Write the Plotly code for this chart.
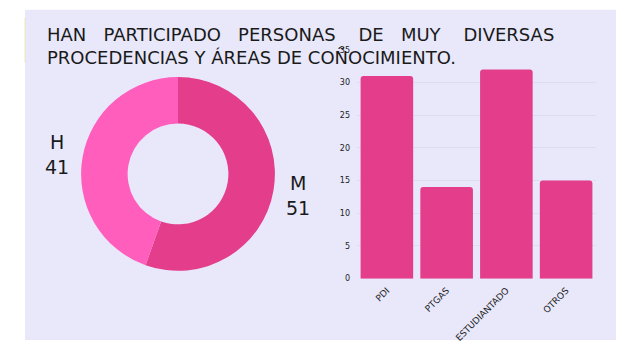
import plotly.graph_objects as go

# Participants by sex
sex_labels = ["M", "H"]
sex_values = [51, 41]

# Participants by group
groups = ["PDI", "PTGAS", "ESTUDIANTADO", "OTROS"]
group_values = [31, 14, 32, 15]

y_ticks = [0, 5, 10, 15, 20, 25, 30, 35]

W, H = 625, 345
DARK = "#E33D8C"
LIGHT = "#FF5EBD"
BG = "#E8E8FA"
FONT = "DejaVu Sans"

fig = go.Figure()

fig.add_trace(go.Pie(
    labels=sex_labels,
    values=sex_values,
    sort=False,
    direction="clockwise",
    rotation=0,
    hole=0.52,
    marker=dict(colors=[DARK, LIGHT], line=dict(width=0)),
    textinfo="none",
    hoverinfo="label+value",
    showlegend=False,
    domain=dict(x=[78 / W, 278 / W], y=[1 - 274 / H, 1 - 75 / H]),
))

fig.add_trace(go.Bar(
    x=groups,
    y=group_values,
    marker=dict(color=DARK, line=dict(width=0), cornerradius=3),
    showlegend=False,
    xaxis="x",
    yaxis="y",
))

fig.update_layout(
    width=W,
    height=H,
    margin=dict(l=0, r=0, t=0, b=0),
    paper_bgcolor="white",
    plot_bgcolor="rgba(0,0,0,0)",
    bargap=0.12,
    xaxis=dict(
        domain=[357 / W, 596 / W],
        anchor="y",
        tickangle=-45,
        tickfont=dict(family=FONT, size=9, color="#222"),
        showgrid=False,
        showline=False,
        ticks="",
        ticklabelstandoff=4,
        fixedrange=True,
    ),
    yaxis=dict(
        domain=[1 - 282 / H, 1 - 47 / H],
        anchor="x",
        range=[0, 35],
        tickvals=y_ticks,
        tickfont=dict(family=FONT, size=8, color="#222"),
        showgrid=True,
        gridcolor="#DCDCF2",
        gridwidth=1,
        zeroline=False,
        showline=False,
        ticks="",
        ticklabelstandoff=6,
        fixedrange=True,
    ),
    shapes=[
        dict(type="rect", xref="paper", yref="paper", layer="below",
             x0=25 / W, x1=616 / W, y0=0, y1=1 - 6 / H,
             fillcolor=BG, line=dict(width=0)),
        dict(type="line", xref="paper", yref="paper", layer="below",
             x0=25 / W, x1=25 / W, y0=1 - 60 / H, y1=1 - 14 / H,
             line=dict(color="#F3E6B8", width=1)),
    ],
)

# Title (first line spread out to full width)
sp3 = "&nbsp;" * 3
sp4 = "&nbsp;" * 4
fig.add_annotation(
    xref="paper", yref="paper", x=45 / W, y=1 - 31 / H,
    xanchor="left", yanchor="middle", showarrow=False,
    text=f"HAN{sp3}PARTICIPADO{sp3}PERSONAS{sp4}DE{sp3}MUY{sp4}DIVERSAS",
    font=dict(family=FONT, size=18, color="#1a1a1a"),
)
fig.add_annotation(
    xref="paper", yref="paper", x=45 / W, y=1 - 55 / H,
    xanchor="left", yanchor="middle", showarrow=False,
    text="PROCEDENCIAS Y ÁREAS DE COÑOCIMIENTO.",
    font=dict(family=FONT, size=18, color="#1a1a1a"),
)

# Donut labels
label_pos = {"H": (57, 155), "M": (298, 197)}
for lab, val in zip(sex_labels, sex_values):
    px, py = label_pos[lab]
    fig.add_annotation(
        xref="paper", yref="paper", x=px / W, y=1 - py / H,
        xanchor="center", yanchor="middle", showarrow=False,
        text=f"{lab}<br>{val}",
        font=dict(family=FONT, size=19, color="#1a1a1a"),
    )

fig.write_html("out.html")
